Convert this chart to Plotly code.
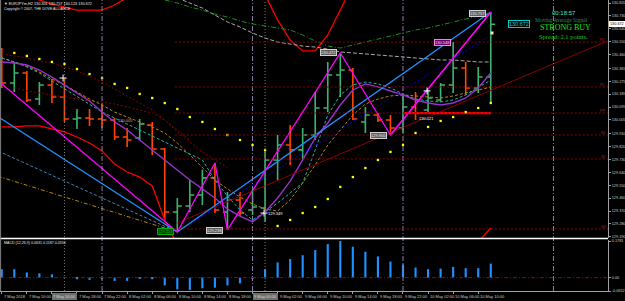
import plotly.graph_objects as go

# ---------------- data ----------------
bar_index = list(range(40))
x_label_bars = [0, 2, 4, 6, 8, 10, 12, 14, 16, 18, 20, 22, 24, 26, 28, 30, 32, 34, 36, 38]
x_labels = ["7 May 2018", "7 May 10:00", "7 May 14:00", "7 May 18:00", "7 May 22:00",
            "8 May 02:00", "8 May 06:00", "8 May 10:00", "8 May 14:00", "8 May 18:00",
            "8 May 22:00", "9 May 02:00", "9 May 06:00", "9 May 10:00", "9 May 14:00",
            "9 May 18:00", "9 May 22:00", "10 May 02:00", "10 May 06:00", "10 May 10:00"]
price_ticks = [130.820, 130.730, 130.640, 130.550, 130.460, 130.365, 130.275, 130.185, 130.095,
               130.005, 129.910, 129.820, 129.730, 129.640, 129.550, 129.460, 129.370, 129.280, 129.190]
price_tick_text = ["130.820", "130.730", "130.640", "130.550", "130.460", "130.365", "130.275", "130.185",
                   "130.095", "130.005", "129.910", "129.820", "129.730", "129.640", "129.550", "129.460",
                   "129.370", "129.280", "129.190"]

open_p = [130.409, 130.262, 130.332, 130.151, 130.249, 130.165, 130.012, 130.018, 130.012, 130.005,
          129.886, 129.879, 129.970, 129.802, 129.363, 129.405, 129.482, 129.601, 129.363, 129.447,
          129.377, 129.391, 129.726, 129.830, 129.796, 129.900, 130.088, 130.318, 130.353, 129.991,
          130.039, 130.005, 129.949, 130.095, 130.074, 130.144, 130.249, 130.367, 130.228, 130.304]
high_p = [130.506, 130.409, 130.346, 130.269, 130.290, 130.297, 130.081, 130.081, 130.116, 130.018,
          129.949, 130.012, 129.991, 129.809, 129.461, 129.586, 129.660, 129.705, 129.503, 129.503,
          129.517, 129.796, 129.900, 129.970, 129.949, 130.200, 130.409, 130.472, 130.367, 130.095,
          130.053, 130.039, 130.179, 130.200, 130.214, 130.262, 130.548, 130.409, 130.374, 130.757]
low_p = [130.228, 130.200, 130.130, 130.109, 130.123, 129.991, 129.942, 129.963, 129.949, 129.865,
         129.816, 129.865, 129.761, 129.308, 129.224, 129.363, 129.412, 129.356, 129.238, 129.335,
         129.342, 129.294, 129.586, 129.691, 129.726, 129.865, 130.060, 130.165, 130.005, 129.914,
         129.991, 129.900, 129.914, 130.005, 130.060, 130.130, 130.193, 130.179, 130.193, 130.123]
close_p = [130.262, 130.332, 130.144, 130.249, 130.165, 130.012, 130.018, 130.012, 130.005, 129.886,
           129.865, 129.977, 129.802, 129.363, 129.405, 129.482, 129.601, 129.377, 129.447, 129.356,
           129.398, 129.726, 129.830, 129.796, 129.900, 130.088, 130.318, 130.353, 130.012, 130.039,
           130.005, 129.949, 130.095, 130.053, 130.158, 130.249, 130.367, 130.228, 130.304, 130.672]

macd_hist = [0.041, 0.041, 0.025, 0.021, 0.016, 0.002, -0.008, -0.011, -0.008, -0.016,
             -0.016, -0.005, -0.008, -0.038, -0.057, -0.060, -0.052, -0.049, -0.038, -0.028,
             -0.005, 0.041, 0.074, 0.090, 0.109, 0.134, 0.163, 0.178, 0.150, 0.126,
             0.103, 0.078, 0.065, 0.049, 0.041, 0.044, 0.052, 0.046, 0.046, 0.068]

ma_purple = [130.409, 130.402, 130.388, 130.353, 130.304, 130.249, 130.193, 130.137, 130.060, 129.991,
             129.935, 129.865, 129.796, 129.726, 129.656, 129.586, 129.524, 129.461, 129.384, 129.335,
             129.294, 129.363, 129.461, 129.579, 129.726, 129.879, 129.984, 130.109, 130.214, 130.256,
             130.235, 130.207, 130.179, 130.144, 130.123, 130.109, 130.123, 130.158, 130.228, 130.332]
ma_teal = [130.437, 130.409, 130.374, 130.332, 130.276, 130.221, 130.165, 130.109, 130.060, 130.018,
           129.977, 129.935, 129.893, 129.851, 129.809, 129.768, 129.726, 129.586, 129.475, 129.377,
           129.308, 129.363, 129.426, 129.496, 129.566, 129.796, 130.039, 130.179, 130.249, 130.269,
           130.256, 130.228, 130.186, 130.151, 130.137, 130.130, 130.144, 130.179, 130.228, 130.283]
ma_gold = [130.437, 130.409, 130.381, 130.339, 130.290, 130.249, 130.200, 130.151, 130.109, 130.060,
           130.025, 129.991, 129.956, 129.914, 129.844, 129.761, 129.670, 129.586, 129.524, 129.468,
           129.419, 129.384, 129.370, 129.447, 129.566, 129.691, 129.830, 129.935, 130.039, 130.116,
           130.151, 130.172, 130.179, 130.172, 130.165, 130.158, 130.172, 130.193, 130.214, 130.235]
env_upper_dotted = [130.465, 130.451, 130.437, 130.416, 130.402, 130.374, 130.346, 130.311, 130.269, 130.221,
                    130.172, 130.123, 130.074, 130.005, 129.921, 129.851, 129.782, 129.726, 129.670] + [None] * 21
env_lower_dotted = [None, 130.228, 130.207, 130.193, 130.179, 130.165, 130.151, 130.137, 130.130, 130.116,
                    130.095, 130.074, 130.053, 130.005, 129.935, 129.865] + [None] * 24
ma_gray = [None] * 14 + [130.855, 130.820, 130.785, 130.736, 130.688, 130.653, 130.611, 130.576, 130.548,
                         130.534, 130.520, 130.513, 130.499, 130.479, 130.472, 130.465, 130.458, 130.451,
                         130.444, 130.437, 130.430, 130.423, 130.423, 130.416, 130.409, 130.409]
ma_green = [None] * 13 + [130.841, 130.820, 130.792, 130.771, 130.743, 130.722, 130.695, 130.674, 130.660,
                          130.646, 130.632, 130.597, 130.555, 130.520, 130.506, 130.527, 130.548, 130.569,
                          130.590, 130.611, 130.632, 130.646, 130.667, 130.688, 130.709, 130.730, 130.750]
band_upper = [130.980, 130.925, 130.883, 130.841, 130.813, 130.792, 130.771, 130.771, 130.771, 130.806,
              130.855, 130.911] + [None] * 8 + [130.980, 130.876, 130.702, 130.562, 130.486, 130.486,
                                                130.597, 130.771, 130.946] + [None] * 11
band_lower = [129.956, 129.956, 129.963, 129.963, 129.942, 129.921, 129.886, 129.844, 129.789, 129.698,
              129.642, 129.607, 129.545, 129.308, 129.133] + [None] * 23 + [129.154, 129.252]

sar_above_bars = list(range(1, 22))
sar_above = [130.472, 130.451, 130.430, 130.409, 130.395, 130.360, 130.325, 130.297, 130.256, 130.228,
             130.186, 130.158, 130.123, 130.081, 130.025, 129.991, 129.942, 129.900, 129.865, 129.830, 129.796]
sar_below_bars = list(range(22, 40))
sar_below = [129.266, 129.308, 129.356, 129.398, 129.454, 129.538, 129.607, 129.670, 129.726, 129.782,
             129.830, 129.914, 129.956, 129.998, 130.025, 130.060, 130.088, 130.123]

zigzag_bars = [-1, 14, 17, 18, 27, 31, 39]
zigzag_prices = [130.330, 129.224, 129.705, 129.238, 130.472, 129.900, 130.757]
blue_bars = [-1, 14, 39]
blue_prices = [130.067, 129.224, 130.757]
steel_bars = [-1, 14]
steel_prices = [129.816, 129.224]
golddd_bars = [-1, 14]
golddd_prices = [129.631, 129.224]
navy_bars = [14, 39]
navy_prices = [129.224, 130.597]
channel_bars = [14, 48.3]
channel_prices = [129.287, 130.555]

pivot_levels = [130.548, 130.235, 130.053, 129.900, 129.733, 129.245]
pivot_names = ["R2", "R1", "PP", "S1", "S2", "S3"]
pivot_start_bar = 13.8
red_level = 130.053
red_level_bars = [32, 39]

sep_bars = [8, 20, 32, 44]
cursor_bars = [5, 21]
cursor_labels = ["7 May 16:00", "9 May 00:00"]

last_price = 130.672
X0, X1 = -0.14, 48.35
Y0, Y1 = 129.182, 130.841

fig = go.Figure()


def line(xs, ys, color, width=1.0, dash="solid"):
    fig.add_trace(go.Scatter(x=xs, y=ys, mode="lines", line=dict(color=color, width=width, dash=dash),
                             connectgaps=False, hoverinfo="skip", showlegend=False, cliponaxis=True))


# bands and moving averages
line(bar_index, band_upper, "#FF0000", 1.3)
line(bar_index, band_lower, "#FF0000", 1.3)
line(bar_index, env_upper_dotted, "#8B0000", 1.0, "2px,2px")
line(bar_index, env_lower_dotted, "#8B0000", 1.0, "2px,2px")
line(bar_index, ma_gray, "#A9A9A9", 1.0, "4px,2px")
line(bar_index, ma_green, "#1F8B1F", 1.0, "5px,2px,1px,2px")
line(bar_index, ma_gold, "#B8860B", 1.0, "3px,2px")
line(bar_index, ma_teal, "#20B2AA", 1.0, "3px,2px")
line(bar_index, ma_purple, "#9932CC", 1.4)

# trend lines
line(steel_bars, steel_prices, "#4682B4", 1.0, "3px,2px")
line(golddd_bars, golddd_prices, "#B8860B", 1.0, "4px,2px,1px,2px")
line(channel_bars, channel_prices, "#8B0000", 1.0)
line(navy_bars, navy_prices, "#0000CD", 1.0, "2px,2px")
line([red_level_bars[0], red_level_bars[1]], [red_level, red_level], "#FF0000", 2.2)

# bars
fig.add_trace(go.Ohlc(x=bar_index, open=open_p, high=high_p, low=low_p, close=close_p,
                      increasing=dict(line=dict(color="#3CB371", width=1.6)),
                      decreasing=dict(line=dict(color="#FF4500", width=1.6)),
                      tickwidth=0.35, hoverinfo="skip", showlegend=False))

line(blue_bars, blue_prices, "#1E90FF", 1.3)
line(zigzag_bars, zigzag_prices, "#FF00FF", 1.3)
line([31, 39], [129.900, 130.757], "#FF00FF", 1.3)

# parabolic SAR
fig.add_trace(go.Scatter(x=sar_above_bars + sar_below_bars, y=sar_above + sar_below, mode="markers",
                         marker=dict(symbol="square", size=2.3, color="#FFFF00"),
                         hoverinfo="skip", showlegend=False))
# cursor crosses
fig.add_trace(go.Scatter(x=[4.89, 33.92, 20.92], y=[130.297, 130.207, 129.356], mode="markers",
                         marker=dict(symbol="cross-thin", size=5, line=dict(color="white", width=1)),
                         hoverinfo="skip", showlegend=False))
fig.add_trace(go.Scatter(x=[39.1], y=[130.611], mode="markers",
                         marker=dict(symbol="square", size=3, color="#FFDEAD"),
                         hoverinfo="skip", showlegend=False))

# MACD
fig.add_trace(go.Bar(x=bar_index, y=macd_hist, width=0.17, marker=dict(color="#1E90FF", line=dict(width=0)),
                     xaxis="x2", yaxis="y2", hoverinfo="skip", showlegend=False))

shapes = []
for b in sep_bars:
    shapes.append(dict(type="line", xref="x", yref="paper", x0=b, x1=b, y0=0, y1=1,
                       line=dict(color="#8C7FA8", width=1, dash="5px,2px,1px,2px")))
for b in cursor_bars:
    shapes.append(dict(type="line", xref="x", yref="paper", x0=b, x1=b, y0=0, y1=1,
                       line=dict(color="#7A7A7A", width=1, dash="1px,2px")))
for lv in pivot_levels:
    shapes.append(dict(type="line", xref="x", yref="y", x0=pivot_start_bar, x1=X1, y0=lv, y1=lv,
                       line=dict(color="#8B0000", width=1, dash="2px,2px")))
shapes.append(dict(type="line", xref="x2", yref="y2", x0=X0, x1=X1, y0=0, y1=0,
                   line=dict(color="#A00000", width=1, dash="4px,2px,1px,2px")))
shapes.append(dict(type="line", xref="paper", yref="paper", x0=0, x1=1, y0=1 - 238.5 / 291, y1=1 - 238.5 / 291,
                   line=dict(color="#FFFFFF", width=1.5)))
shapes.append(dict(type="line", xref="paper", yref="paper", x0=0.001, x1=0.001, y0=0, y1=1,
                   line=dict(color="#808080", width=1)))

ann = []
def txt(x, y, s, color, size, xref="paper", yref="paper", xanchor="center", family="Liberation Sans",
        bg=None, border=None):
    d = dict(x=x, y=y, xref=xref, yref=yref, text=s, showarrow=False, xanchor=xanchor, yanchor="middle",
             font=dict(color=color, size=size, family=family))
    if bg:
        d.update(bgcolor=bg, bordercolor=border, borderwidth=1, borderpad=0)
    ann.append(d)

# header texts
txt(0.004, 1 - 4 / 291, "▼ EURJPYm,H2 130.301 130.757 130.123 130.672", "#E8E8E8", 3.8, xanchor="left")
txt(0.004, 1 - 9.5 / 291, "Copyright © 2007, THE DOVE ALLIANCE", "#E8E8E8", 3.6, xanchor="left")
txt(0.004, 1 - 243 / 291, "MACD (12,26,9) 0.0631 0.1187 0.0556", "#E8E8E8", 3.6, xanchor="left")

# signal panel
txt(564 / 608, 1 - 13 / 291, "00:18:57", "#40E0D0", 6)
txt(561 / 608, 1 - 20 / 291, "Moving Average Signal", "#2E8B57", 5.5, family="Liberation Serif")
txt(565 / 608, 1 - 28 / 291, "STRONG BUY", "#1EE01E", 8, family="Liberation Serif")
txt(563 / 608, 1 - 36 / 291, "Spread: 2.1 points.", "#1EC81E", 6.5, family="Liberation Serif")

# chart labels
txt(41.29, 130.674, "130.672", "#00CED1", 5.5, "x", "y", bg="#000000", border="#00CED1")
txt(37.98, 130.750, "130.757", "#E8E8E8", 4, "x", "y", bg="#5F5F5F", border="#D0D0D0")
txt(35.15, 130.545, "130.548", "#F0E0F0", 4, "x", "y", bg="#6A006A", border="#EE82EE")
txt(26.06, 130.472, "130.472", "#E8E8E8", 4, "x", "y", bg="#5F5F5F", border="#D0D0D0")
txt(30.05, 129.897, "129.900", "#E8E8E8", 4, "x", "y", bg="#5F5F5F", border="#D0D0D0")
txt(17.0, 129.235, "129.238", "#E8E8E8", 4, "x", "y", bg="#5F5F5F", border="#D0D0D0")
txt(13.06, 129.228, "129.224", "#00D000", 4, "x", "y", bg="#003A00", border="#00B000")
txt(9.87, 130.002, "130.005", "#D8A0D8", 4, "x", "y")
txt(33.87, 130.016, "130.021", "#FFFFFF", 4, "x", "y")
txt(21.83, 129.356, "129.349", "#FFFFFF", 4, "x", "y")

for lv, nm in zip(pivot_levels, pivot_names):
    txt(X1 - 0.1, lv + 0.012, nm, "#B22222", 3.6, "x", "y", xanchor="right")

# time axis labels
for b, s in zip(x_label_bars, x_labels):
    txt(b, -5 / 291, s, "#C8C8C8", 4, "x2", "paper", xanchor="left")
for b, s in zip(cursor_bars, cursor_labels):
    txt(b, -5 / 291, s, "#D8D8D8", 4, "x2", "paper", bg="#6E6E6E", border="#6E6E6E")

# current price on axis
txt(1.002, (last_price - Y0) / (Y1 - Y0) * (238 / 291) + (53 / 291), "130.672", "#000000", 3.8,
    xanchor="left", bg="#FFFFFF", border="#FFFFFF")

axis_common = dict(showgrid=False, zeroline=False, range=[X0, X1])
fig.update_layout(
    width=625, height=301,
    margin=dict(l=0, r=17, t=0, b=10),
    paper_bgcolor="#000000", plot_bgcolor="#000000",
    showlegend=False, hovermode=False,
    font=dict(family="Liberation Sans", color="#C8C8C8"),
    xaxis=dict(domain=[0, 1], anchor="y", showticklabels=False, rangeslider=dict(visible=False),
               **axis_common),
    yaxis=dict(domain=[53 / 291, 1], range=[Y0, Y1], side="right", showgrid=False, zeroline=False,
               tickvals=price_ticks, ticktext=price_tick_text, tickfont=dict(size=3.8, color="#C8C8C8"),
               ticks="outside", ticklen=2, tickcolor="#A0A0A0", showline=True, linecolor="#A0A0A0"),
    xaxis2=dict(domain=[0, 1], anchor="y2", showticklabels=False, tickvals=x_label_bars, ticks="outside",
                ticklen=2, tickcolor="#A0A0A0", showline=True, linecolor="#A0A0A0", **axis_common),
    yaxis2=dict(domain=[0, 51 / 291], range=[-0.0652, 0.183], side="right", showgrid=False, zeroline=False,
                tickvals=[0.1781, 0, -0.0652], ticktext=["0.1781", "0.00", "-0.0652"],
                tickfont=dict(size=3.8, color="#C8C8C8"), ticks="outside", ticklen=2, tickcolor="#A0A0A0",
                showline=True, linecolor="#A0A0A0"),
    shapes=shapes, annotations=ann,
)

fig.write_html("out.html", config={"displayModeBar": False})
